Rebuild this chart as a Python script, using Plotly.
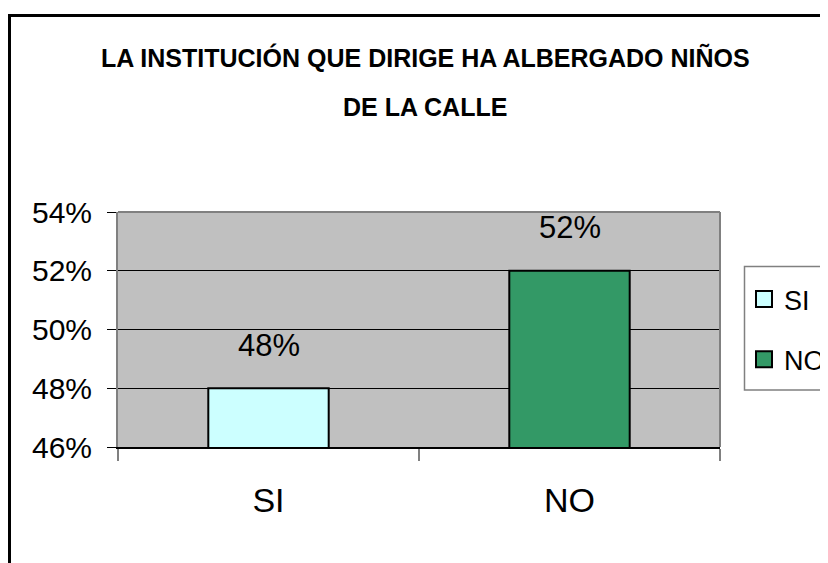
import plotly.graph_objects as go

categories = ["SI", "NO"]
values = [0.48, 0.52]
colors = ["#CCFFFF", "#339966"]
value_labels = ["48%", "52%"]
y_ticks = [0.46, 0.48, 0.50, 0.52, 0.54]
y_tick_labels = ["46%", "48%", "50%", "52%", "54%"]
title_lines = ["LA INSTITUCIÓN QUE DIRIGE HA ALBERGADO NIÑOS", "DE LA CALLE"]

FONT = "Liberation Sans Narrow, Arial Narrow, Liberation Sans, Arial, sans-serif"

W, H = 828, 563
OFF = 8  # page body margin offset (screen px = figure px + OFF)
# target plot area in screen px: x 118..720, y 212..447
L = 118 - OFF
T = 212 - OFF
pw, ph = 602, 235
R = W - L - pw
B = H - T - ph

def sx(px):  # screen x -> paper
    return (px - OFF - L) / pw

def sy(py):  # screen y -> paper
    return (T + ph - (py - OFF)) / ph

fig = go.Figure()
for cat, val, col in zip(categories, values, colors):
    fig.add_trace(go.Bar(
        x=[cat], y=[val], name=cat, width=0.4,
        marker=dict(color=col, line=dict(color="black", width=2)),
        showlegend=False,
    ))
for cat, col in zip(categories, colors):
    fig.add_trace(go.Scatter(
        x=[None], y=[None], name=cat, mode="markers",
        marker=dict(symbol="square", size=16, color=col, line=dict(color="black", width=2)),
        legendgroup=cat,
    ))

annotations = []
for cat, val, lab in zip(categories, values, value_labels):
    annotations.append(dict(
        x=cat, y=val, xref="x", yref="y", text=lab, showarrow=False,
        yanchor="middle", yshift=43, font=dict(family=FONT, size=31, color="black"),
    ))
for line, ycen in zip(title_lines, [57, 107]):
    annotations.append(dict(
        x=sx(425), y=sy(ycen), xref="paper", yref="paper", text="<b>" + line + "</b>",
        showarrow=False, xanchor="center", yanchor="middle",
        font=dict(family=FONT, size=25, color="black"),
    ))

shapes = [
    # outer chart frame (partly cropped)
    dict(type="rect", xref="paper", yref="paper",
         x0=sx(9.5), x1=sx(900), y0=sy(700), y1=sy(15.5),
         line=dict(color="black", width=3), layer="above"),
    # plot area top/right border
    dict(type="line", xref="paper", yref="paper", x0=0, x1=1, y0=1, y1=1,
         line=dict(color="#808080", width=2), layer="above"),
    dict(type="line", xref="paper", yref="paper", x0=1, x1=1, y0=0, y1=1,
         line=dict(color="#808080", width=2), layer="above"),
    # legend box
    dict(type="rect", xref="paper", yref="paper",
         x0=sx(744.5), x1=sx(827), y0=sy(390), y1=sy(266.5),
         line=dict(color="#808080", width=1.5), layer="above"),
]

fig.update_layout(
    width=W, height=H,
    margin=dict(l=L, r=R, t=T, b=B, pad=0, autoexpand=False),
    paper_bgcolor="white",
    plot_bgcolor="#C0C0C0",
    barmode="overlay",
    font=dict(family=FONT, color="black", size=30),
    xaxis=dict(
        type="category", categoryorder="array", categoryarray=categories,
        range=[-0.5, 1.5], showgrid=False, zeroline=False,
        showline=True, linecolor="black", linewidth=2,
        ticks="outside", tickson="boundaries", ticklen=12, tickcolor="#808080", tickwidth=2,
        tickfont=dict(family=FONT, size=34, color="black"),
        ticklabelstandoff=22,
    ),
    yaxis=dict(
        range=[0.46, 0.54], tickvals=y_ticks, ticktext=y_tick_labels,
        showgrid=True, gridcolor="black", gridwidth=1, zeroline=False,
        showline=True, linecolor="#808080", linewidth=2,
        ticks="outside", ticklen=9, tickcolor="black", tickwidth=1,
        tickfont=dict(family=FONT, size=30, color="black"),
        ticklabelstandoff=9,
    ),
    legend=dict(
        x=sx(744), y=sy(275), xanchor="left", yanchor="top",
        borderwidth=0, bgcolor="rgba(0,0,0,0)",
        font=dict(family=FONT, size=27, color="black"),
        tracegroupgap=22, itemsizing="trace",
    ),
    annotations=annotations,
    shapes=shapes,
)

fig.write_html("out.html")
